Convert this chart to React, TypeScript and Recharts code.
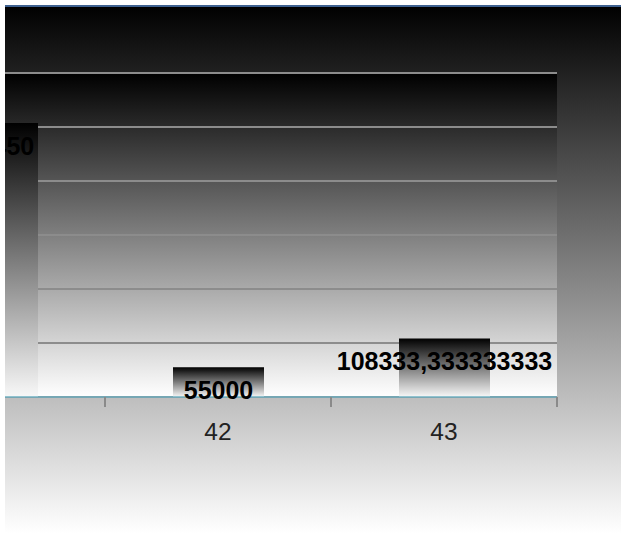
import React from 'react';
import { BarChart, Bar, XAxis, YAxis, CartesianGrid, LabelList } from 'recharts';

const categories = ['41', '42', '43'];
const values = [507450, 55000, 108333.333333333];
const yTicks = [0, 100000, 200000, 300000, 400000, 500000, 600000];
const yDomain = [0, 600000];

const data = categories.map((c, i) => ({ name: c, value: values[i] }));

const CHART_W = 742;
const CHART_H = 528;
const MARGIN = { top: 68, right: 64, bottom: 106, left: 0 };
const HALF_BAND = (CHART_W - MARGIN.left - MARGIN.right) / categories.length / 2;
const FONT = '"Liberation Sans", Arial, sans-serif';

const fmt = (v: any) => String(v).replace('.', ',');

const BoundaryTick = (props: any) => {
  const { x, y, payload } = props;
  const bx = x + HALF_BAND;
  return (
    <g>
      <line x1={bx} x2={bx} y1={y} y2={y + 10} stroke="#8a8a8a" strokeWidth={2} />
      <text x={x} y={y + 43} textAnchor="middle" fill="#222" fontSize={24.5} fontFamily={FONT}>
        {payload.value}
      </text>
    </g>
  );
};

const EmptyTick = () => <g />;

export default function App() {
  return (
    <div
      style={{
        position: 'absolute',
        left: 5,
        top: 5,
        width: 616,
        height: 528,
        overflow: 'hidden',
        background: 'linear-gradient(to bottom, #000000 0%, #ffffff 100%)',
        fontFamily: FONT,
      }}
    >
      <div style={{ position: 'absolute', left: 0, top: 0, width: 616, height: 2, background: '#3e6190', zIndex: 2 }} />
      <div style={{ position: 'absolute', left: -126, top: 0 }}>
        <BarChart width={CHART_W} height={CHART_H} data={data} margin={MARGIN}>
          <defs>
            <linearGradient id="plotGrad" x1="0" y1="0" x2="0" y2="1">
              <stop offset="0%" stopColor="#000000" />
              <stop offset="100%" stopColor="#ffffff" />
            </linearGradient>
            <linearGradient id="barGrad" x1="0" y1="0" x2="0" y2="1">
              <stop offset="0%" stopColor="#000000" />
              <stop offset="100%" stopColor="#f8f8f8" />
            </linearGradient>
          </defs>
          <CartesianGrid
            vertical={false}
            fill="url(#plotGrad)"
            fillOpacity={1}
            stroke="#8c8c8c"
            strokeWidth={2}
          />
          <Bar dataKey="value" fill="url(#barGrad)" barSize={91} isAnimationActive={false}>
            <LabelList
              dataKey="value"
              position="insideTop"
              offset={14}
              formatter={fmt}
              fill="#000"
              fontSize={25}
              fontWeight="bold"
              fontFamily={FONT}
            />
          </Bar>
          <XAxis
            dataKey="name"
            height={30}
            axisLine={{ stroke: '#6fb0c2', strokeWidth: 1.5 }}
            tickLine={false}
            tickSize={0}
            tickMargin={0}
            tick={<BoundaryTick />}
            interval={0}
          />
          <YAxis
            orientation="right"
            width={0}
            domain={yDomain}
            ticks={yTicks}
            interval={0}
            tick={<EmptyTick />}
            tickLine={false}
            axisLine={{ stroke: '#4aaac5', strokeWidth: 2 }}
          />
        </BarChart>
      </div>
    </div>
  );
}
